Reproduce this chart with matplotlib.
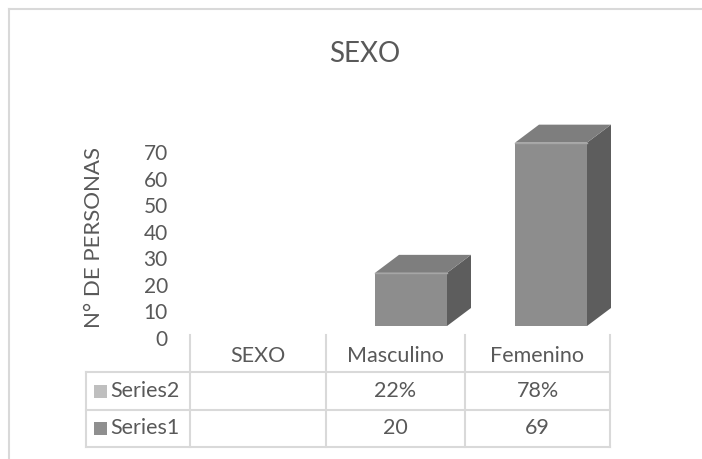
import matplotlib
matplotlib.use("Agg")
import matplotlib.pyplot as plt
from matplotlib.patches import Polygon, Rectangle

# datos
categories = ["SEXO", "Masculino", "Femenino"]
series1 = [None, 20, 69]          # N° de personas
series2 = [None, 22, 78]          # porcentaje
series_names = ["Series2", "Series1"]
yticks = [0, 10, 20, 30, 40, 50, 60, 70]

plt.rcParams['font.family'] = ['Lato', 'DejaVu Sans']
TXT = "#595959"
GRID = "#d9d9d9"

W, H = 702, 459
fig = plt.figure(figsize=(W / 100, H / 100), dpi=100)

# capa de fondo en pixeles para marco y tabla
bg = fig.add_axes([0, 0, 1, 1])
bg.set_xlim(0, W)
bg.set_ylim(H, 0)
bg.axis("off")

# marco del grafico
bg.plot([9, W], [9, 9], color=GRID, lw=1.5)
bg.plot([9, 9], [9, H], color=GRID, lw=1.5)

# ejes de las barras: y=0 en px 338, y=70 en px 152; x de 190 a 610
ax = fig.add_axes([190 / W, (H - 338) / H, 420 / W, 186 / H])
ax.set_xlim(-0.5, len(categories) - 0.5)
ax.set_ylim(0, 70)
ax.set_facecolor("none")
for s in ax.spines.values():
    s.set_visible(False)
ax.set_xticks([])
ax.set_yticks(yticks)
ax.set_yticklabels([str(t) for t in yticks], fontsize=15, color=TXT)
ax.tick_params(axis="y", length=0, pad=16)

# barras "3D"
px_x = 140.0          # px por categoria
px_y = 186.0 / 70     # px por unidad
shift_x, shift_y = 11 / px_x, 12 / px_y
dx, dy = 24 / px_x, 18 / px_y
bw = 72 / px_x
for i, v in enumerate(series1):
    if v is None:
        continue
    x0 = i - bw / 2 + shift_x
    y0 = shift_y
    x1, y1 = x0 + bw, y0 + v
    front = Rectangle((x0, y0), bw, v, facecolor="#8d8d8d", edgecolor="none", clip_on=False, zorder=3)
    side = Polygon([(x1, y0), (x1 + dx, y0 + dy), (x1 + dx, y1 + dy), (x1, y1)],
                   closed=True, facecolor="#5d5d5d", edgecolor="none", clip_on=False, zorder=2)
    top = Polygon([(x0, y1), (x1, y1), (x1 + dx, y1 + dy), (x0 + dx, y1 + dy)],
                  closed=True, facecolor="#7e7e7e", edgecolor="none", clip_on=False, zorder=2)
    ax.add_patch(side)
    ax.add_patch(top)
    ax.add_patch(front)
    ax.plot([x0, x1], [y1, y1], color="#a6a6a6", lw=1, clip_on=False, zorder=4)

# titulo y eje
fig.text(365 / W, 1 - 54 / H, "SEXO", ha="center", va="center", fontsize=20, color=TXT)
fig.text(94 / W, 1 - 238 / H, "N° DE PERSONAS", rotation=90, ha="center", va="center",
         fontsize=16, color=TXT)

# tabla de datos
col_edges = [190, 326, 465, 610]
row_edges = [335, 372, 410, 447]
for x in col_edges:
    bg.plot([x, x], [row_edges[0], row_edges[-1]], color=GRID, lw=1.5)
bg.plot([86, 86], [row_edges[1], row_edges[-1]], color=GRID, lw=1.5)
for y in row_edges[1:]:
    bg.plot([86, col_edges[-1]], [y, y], color=GRID, lw=1.5)

hy = (row_edges[0] + row_edges[1]) / 2 + 2
for i, c in enumerate(categories):
    cx = (col_edges[i] + col_edges[i + 1]) / 2
    bg.text(cx, hy, c, ha="center", va="center", fontsize=15.5, color=TXT)

rows = [
    (series_names[0], "#bfbfbf", ["" if v is None else f"{v}%" for v in series2]),
    (series_names[1], "#8f8f8f", ["" if v is None else str(v) for v in series1]),
]
for r, (name, col, vals) in enumerate(rows):
    cy = (row_edges[r + 1] + row_edges[r + 2]) / 2
    bg.add_patch(Rectangle((94, cy - 6.5), 13, 13, facecolor=col, edgecolor="none"))
    bg.text(110, cy, name, ha="left", va="center", fontsize=15.5, color=TXT)
    for i, t in enumerate(vals):
        cx = (col_edges[i] + col_edges[i + 1]) / 2
        bg.text(cx, cy, t, ha="center", va="center", fontsize=15.5, color=TXT)

fig.savefig("out.png", dpi=100)
